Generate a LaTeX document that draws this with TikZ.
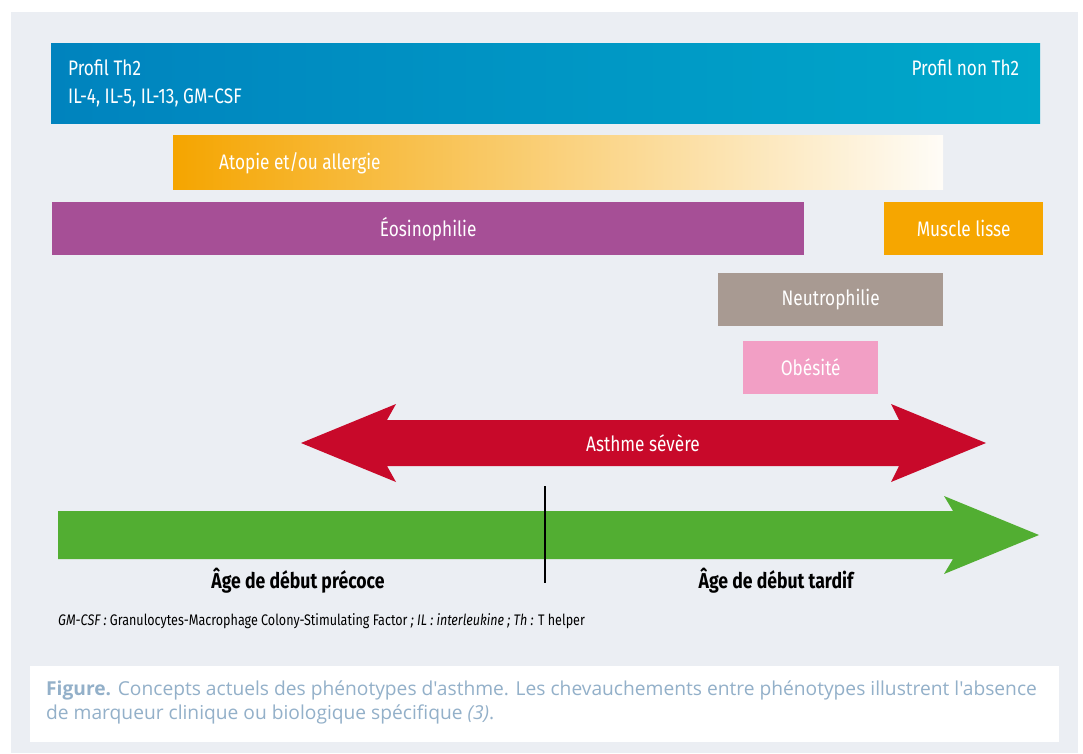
\documentclass[tikz,border=0pt]{standalone}
\usepackage{fontspec}
\setmainfont{Fira Sans}
\newfontfamily\condfont[FakeStretch=0.82]{Fira Sans}
\newfontfamily\capfont{Open Sans}
\usetikzlibrary{positioning}

\definecolor{panelgrey}{HTML}{EBEEF3}
\definecolor{thblue}{HTML}{0083BE}
\definecolor{thcyan}{HTML}{00A8CA}
\definecolor{atopyorange}{HTML}{F5A500}
\definecolor{eosviolet}{HTML}{A64F96}
\definecolor{muscleorange}{HTML}{F6A600}
\definecolor{neutrotaupe}{HTML}{A89A92}
\definecolor{obesepink}{HTML}{F29FC5}
\definecolor{severered}{HTML}{C8092A}
\definecolor{agegreen}{HTML}{52AE32}
\definecolor{captionblue}{HTML}{93B0C9}

\begin{document}
\begin{tikzpicture}[x=1pt, y=-1pt,
barnode/.style={rectangle, inner sep=0pt, anchor=north west, text=white, font=\condfont\fontsize{21}{25}\selectfont},
whitetext/.style={inner sep=0pt, text=white, font=\condfont\fontsize{21}{25}\selectfont},
agetext/.style={inner sep=0pt, text=black, font=\condfont\bfseries\fontsize{21.5}{25}\selectfont},
captext/.style={inner sep=0pt, anchor=base west, text=captionblue, font=\capfont\fontsize{19.2}{24}\selectfont},
]
\useasboundingbox (0,0) rectangle (1083,753);
\fill[white] (0,0) rectangle (1083,753);
\fill[panelgrey] (11,12) rectangle (1078,753);

%Bars
\node[barnode, minimum width=989, minimum height=80, left color=thblue, right color=thcyan] (profil) at (51,43) {};
\node[barnode, minimum width=770, minimum height=54, left color=atopyorange, right color=white!97!atopyorange] (atopie) at (173,135) {};
\node[barnode, minimum width=752, minimum height=53, fill=eosviolet] (eos) at (52,202) {\'Eosinophilie};
\node[barnode, minimum width=159, minimum height=53, fill=muscleorange] (muscle) at (884,202) {Muscle lisse};
\node[barnode, minimum width=225, minimum height=53, fill=neutrotaupe] (neutro) at (718,273) {Neutrophilie};
\node[barnode, minimum width=135, minimum height=53, fill=obesepink] (obese) at (743,341) {Ob\'esit\'e};

%Bar texts
\node[whitetext, anchor=base west] (th2) at ([shift={(17,32)}]profil.north west) {Profil Th2};
\node[whitetext, anchor=base west] (cyto) at ([shift={(17,60)}]profil.north west) {IL-4, IL-5, IL-13, GM-CSF};
\node[whitetext, anchor=base east] (nonth2) at ([shift={(-21,32)}]profil.north east) {Profil non Th2};
\node[whitetext, anchor=base west] (atopietext) at ([shift={(46,34)}]atopie.north west) {Atopie et/ou allergie};

%Arrows
\fill[severered] (301,443) -- (396,404) -- (387,420) -- (899,420) -- (891,404) -- (986,443)
  -- (891,482) -- (899,466) -- (387,466) -- (396,482) -- cycle;
\node[whitetext] (severe) at (643,443) {Asthme s\'ev\`ere};
\fill[agegreen] (58,511) -- (953,511) -- (944,496) -- (1039,535) -- (944,574) -- (953,559) -- (58,559) -- cycle;
\coordinate (ticktop) at (545,486);
\coordinate (tickbottom) at (545,583);
\draw[black, line width=1.8pt] (ticktop) -- (tickbottom);
\node[agetext] (early) at (298,581) {\^Age de d\'ebut pr\'ecoce};
\node[agetext] (late) at (776,581) {\^Age de d\'ebut tardif};

%Footnote
\node[inner sep=0pt, anchor=west, font=\condfont\fontsize{15.3}{18}\selectfont] (abbrev) at (58,621)
  {\textit{GM-CSF :} Granulocytes-Macrophage Colony-Stimulating Factor \textit{; IL : interleukine ; Th :} T helper};

%Caption
\fill[white] (30,666) rectangle (1059,742);
\node[captext] (capone) at (46,695)
  {\textbf{Figure.} Concepts actuels des ph\'enotypes d'asthme. Les chevauchements entre ph\'enotypes illustrent l'absence};
\node[captext] (captwo) at (46,719)
  {de marqueur clinique ou biologique sp\'ecifique \textit{(3)}.};
\end{tikzpicture}
\end{document}
